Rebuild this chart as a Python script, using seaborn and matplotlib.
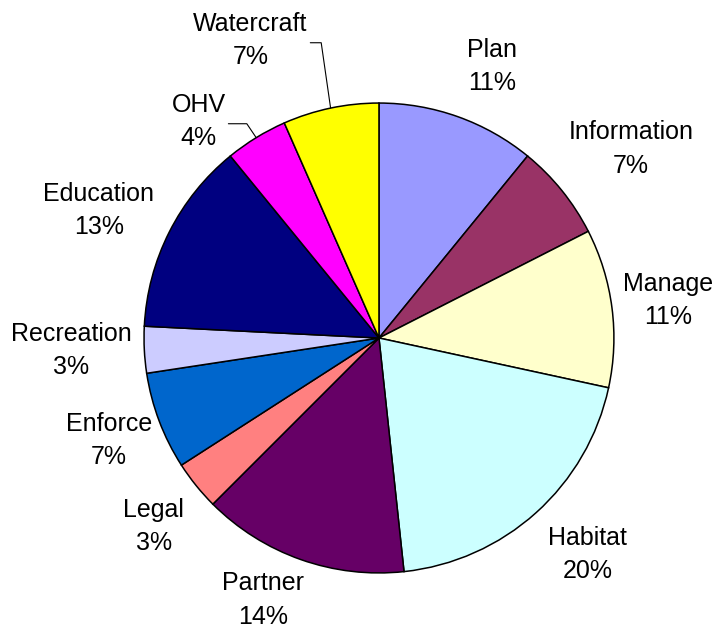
import numpy as np
import matplotlib.pyplot as plt
import seaborn as sns

categories = ['Plan', 'Information', 'Manage', 'Habitat', 'Partner', 'Legal',
              'Enforce', 'Recreation', 'Education', 'OHV', 'Watercraft']
shares = [10.9, 6.6, 10.9, 19.9, 14.2, 3.4, 6.7, 3.2, 13.3, 4.3, 6.6]
colors = ['#9999FF', '#993366', '#FFFFCC', '#CCFFFF', '#660066', '#FF8080',
          '#0066CC', '#CCCCFF', '#000080', '#FF00FF', '#FFFF00']

# label placement: (angle shift in degrees, distance from centre in radii)
label_pos = {
    'Plan': (-3, 1.25), 'Information': (-2, 1.34), 'Manage': (0, 1.24),
    'Habitat': (2, 1.28), 'Partner': (-4.5, 1.22), 'Legal': (1, 1.25),
    'Enforce': (0, 1.23), 'Recreation': (-0.5, 1.31), 'Education': (2.4, 1.31),
    'OHV': (8.3, 1.20), 'Watercraft': (11.5, 1.38),
}
leaders = ['OHV', 'Watercraft']

sns.set_style('white')
plt.rcParams['font.family'] = ['Liberation Sans', 'DejaVu Sans']

fig = plt.figure(figsize=(7.14, 6.29), dpi=100)
ax = fig.add_axes([0, 0, 1, 1])
wedges, _ = ax.pie(shares, colors=colors, startangle=90, counterclock=False,
                   radius=1.0,
                   wedgeprops=dict(edgecolor='black', linewidth=1.1))
ax.set_aspect('equal')
ax.set_xlim(-1.613, 1.426)
ax.set_ylim(-1.238, 1.438)
ax.axis('off')

total = sum(shares)
texts = {}
for w, name, v in zip(wedges, categories, shares):
    mid = (w.theta1 + w.theta2) / 2
    shift, dist = label_pos[name]
    a = np.deg2rad(mid + shift)
    x, y = dist * np.cos(a), dist * np.sin(a)
    texts[name] = ax.text(x, y, f'{name}\n{v / total * 100:.0f}%', ha='center',
                          va='center', fontsize=18, linespacing=1.48,
                          color='black')

fig.canvas.draw()
r = fig.canvas.get_renderer()
inv = ax.transData.inverted()
for w, name in zip(wedges, categories):
    if name not in leaders:
        continue
    mid = np.deg2rad((w.theta1 + w.theta2) / 2)
    ex, ey = np.cos(mid), np.sin(mid)
    bb = texts[name].get_window_extent(r)
    (x0, y0), (x1, y1) = inv.transform([[bb.x0, bb.y0], [bb.x1, bb.y1]])
    ly = texts[name].get_position()[1] - 0.01
    elbow_x = ex - 0.04
    ax.plot([x1 + 0.012, elbow_x, ex], [ly, ly, ey], color='black', lw=0.8)

fig.savefig('out.png', dpi=100)
